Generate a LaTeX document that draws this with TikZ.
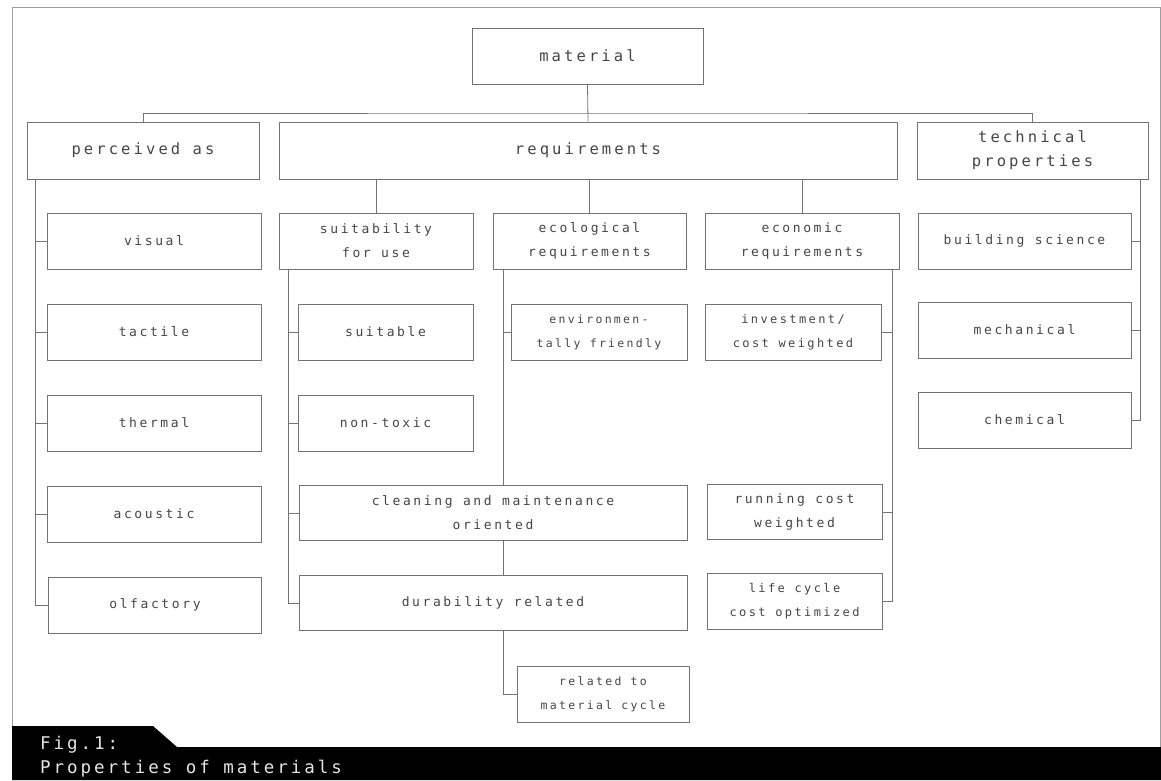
\documentclass[tikz,border=0pt]{standalone}
\usepackage{fontspec}
\newfontfamily\plotfont[LetterSpace=20]{DejaVu Sans Mono}
\newfontfamily\barfont[LetterSpace=17]{DejaVu Sans Mono}
\definecolor{linegray}{gray}{0.45}
\definecolor{textgray}{gray}{0.27}
\definecolor{framegray}{gray}{0.62}
\definecolor{captiontext}{gray}{0.9}
\begin{document}
\begin{tikzpicture}[x=1pt,y=-1pt,
  box/.style={draw=linegray, line width=0.8pt, inner sep=0pt, align=center,
    text=textgray, minimum height=56,
    font=\plotfont\fontsize{13}{24}\selectfont},
  big/.style={font=\plotfont\fontsize{15.5}{24}\selectfont},
  small/.style={font=\plotfont\fontsize{12}{24}\selectfont},
  tiny/.style={font=\plotfont\fontsize{11.5}{24}\selectfont},
  link/.style={draw=linegray, line width=0.8pt},
  frameline/.style={draw=framegray, line width=0.8pt},
  caption/.style={text=captiontext, anchor=base west, inner sep=0pt,
    font=\barfont\fontsize{17.5}{24}\selectfont}]
\useasboundingbox (0,0) rectangle (1161,780);

% outer frame
\draw[frameline] (12,747) -- (12,7) -- (1160,7) -- (1160,747);

% caption bar with tab
\fill[black] (12,726) -- (153,726) -- (177,747) -- (1161,747) -- (1161,780) -- (12,780) -- cycle;
\node[caption] (figno) at (40,749) {Fig.1:};
\node[caption] (figtitle) at (40,773) {Properties of materials};

% level 0
\node[box,big,minimum width=231] (material) at (587.5,56) {material};

% level 1
\node[box,big,minimum width=232,minimum height=57] (perceived) at (143,150.5) {perceived as};
\node[box,big,minimum width=618,minimum height=57] (requirements) at (588,150.5) {requirements};
\node[box,big,minimum width=231,minimum height=57] (technical) at (1032.5,150.5) {technical\\properties};

% level 2
\node[box,minimum width=214] (visual) at (154,241) {visual};
\node[box,minimum width=194] (suit) at (376,241) {suitability\\for use};
\node[box,minimum width=193] (eco) at (589.5,241) {ecological\\requirements};
\node[box,minimum width=194] (econ) at (802,241) {economic\\requirements};
\node[box,minimum width=213] (building) at (1024.5,241) {building science};

% level 3
\node[box,minimum width=214] (tactile) at (154,332) {tactile};
\node[box,minimum width=175] (suitable) at (385.5,332) {suitable};
\node[box,tiny,minimum width=176] (env) at (599,332) {environmen-\\tally friendly};
\node[box,small,minimum width=176] (invest) at (793,332) {investment/\\cost weighted};
\node[box,minimum width=213] (mech) at (1024.5,330) {mechanical};

% level 4
\node[box,minimum width=214] (thermal) at (154,423) {thermal};
\node[box,minimum width=175] (nontoxic) at (385.5,423) {non-toxic};
\node[box,minimum width=213] (chem) at (1024.5,420) {chemical};

% level 5
\node[box,minimum width=214] (acoustic) at (154,514) {acoustic};
\node[box,minimum width=388,minimum height=55] (clean) at (493,513) {cleaning and maintenance\\oriented};
\node[box,minimum width=175,minimum height=55] (running) at (794.5,512) {running cost\\weighted};

% level 6
\node[box,minimum width=213] (olf) at (155,605) {olfactory};
\node[box,minimum width=388,minimum height=55] (dur) at (493,603) {durability related};
\node[box,small,minimum width=175] (life) at (794.5,601) {life cycle\\cost optimized};

% level 7
\node[box,tiny,minimum width=172] (related) at (603,694) {related to\\material cycle};

% top distribution bus
\coordinate (bus) at (587.5,113);
\draw[link] (material.south) -- (requirements.north);
\draw[link] (perceived.north) |- (bus) -| (technical.north);

% requirements to its three groups
\foreach \n in {suit,eco,econ}
  \draw[link] (requirements.south -| \n.north) -- (\n.north);

% perceived as: spine on the left
\coordinate (ps) at ([xshift=9]perceived.south west);
\draw[link] (ps) |- (olf.west);
\foreach \n in {visual,tactile,thermal,acoustic}
  \draw[link] (\n.west) -- (\n.west -| ps);

% suitability for use
\coordinate (ss) at ([xshift=10]suit.south west);
\draw[link] (ss) |- (dur.west);
\foreach \n in {suitable,nontoxic,clean}
  \draw[link] (\n.west) -- (\n.west -| ss);

% ecological requirements
\coordinate (es) at ([xshift=11]eco.south west);
\draw[link] (es) -- (es |- clean.north);
\draw[link] (env.west) -- (env.west -| es);
\draw[link] (clean.south -| es) -- (dur.north -| es);
\draw[link] (dur.south -| es) |- (related.west);

% economic requirements
\coordinate (ns) at ([xshift=-7]econ.south east);
\draw[link] (ns) |- (life.east);
\foreach \n in {invest,running}
  \draw[link] (\n.east) -- (\n.east -| ns);

% technical properties
\coordinate (ts) at ([xshift=-8]technical.south east);
\draw[link] (ts) |- (chem.east);
\foreach \n in {building,mech}
  \draw[link] (\n.east) -- (\n.east -| ts);
\end{tikzpicture}
\end{document}
